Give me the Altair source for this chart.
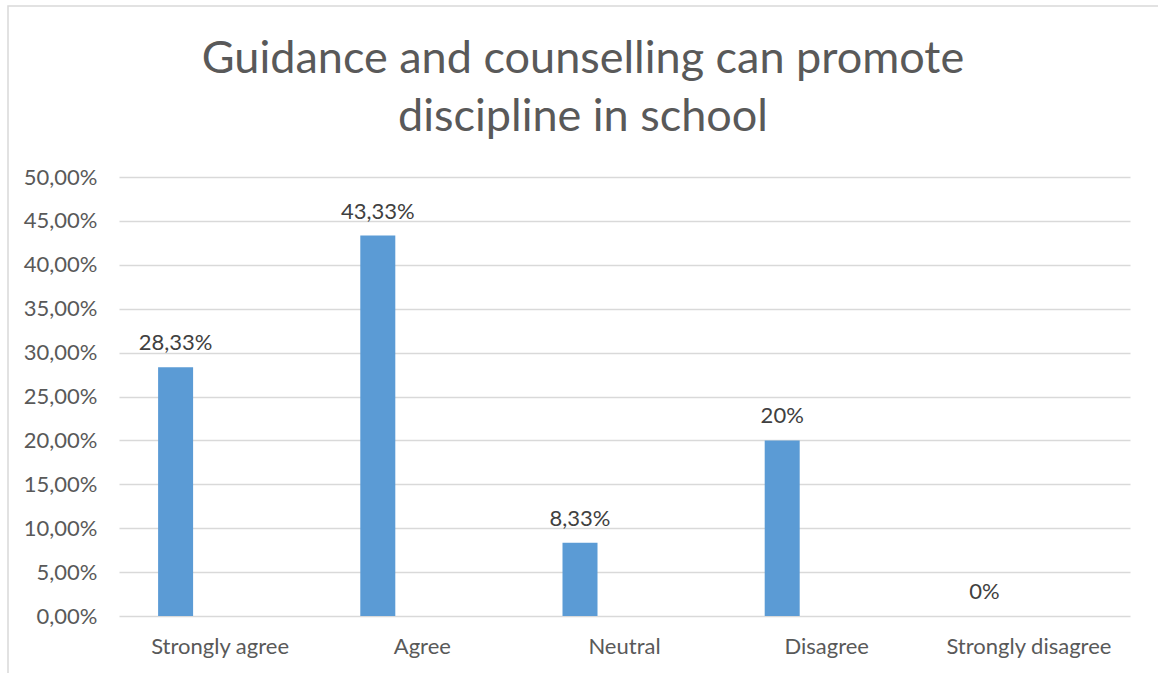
import altair as alt
import pandas as pd

categories = ["Strongly agree", "Agree", "Neutral", "Disagree", "Strongly disagree"]
values = [28.33, 43.33, 8.33, 20.0, 0.0]
value_labels = ["28,33%", "43,33%", "8,33%", "20%", "0%"]
title_lines = ["Guidance and counselling can promote", "discipline in school"]

df = pd.DataFrame({"category": categories, "value": values, "label": value_labels})
one = pd.DataFrame({"k": [0]})

FONT = "Lato"
W, H = 1011, 439
LEFT, TOP = 119, 177

x = alt.X("category:N", sort=categories, title=None,
          scale=alt.Scale(paddingInner=0, paddingOuter=0),
          axis=alt.Axis(labelAngle=0, ticks=False, domain=False, labelPadding=20,
                        labelFontSize=22, labelColor="#595959", labelFont=FONT))
y = alt.Y("value:Q", title=None,
          scale=alt.Scale(domain=[0, 50], nice=False),
          axis=alt.Axis(values=list(range(0, 55, 5)), ticks=False, domain=False,
                        labelExpr="replace(format(datum.value, '.2f'), '.', ',') + '%'",
                        labelPadding=22, labelFontSize=22, labelColor="#595959",
                        labelFont=FONT, gridColor="#d9d9d9", gridWidth=1.3))

base = alt.Chart(df)
bars = base.mark_bar(color="#5b9bd5", width=35, xOffset=-44.5).encode(x=x, y=y)
text = base.mark_text(fontSize=22, color="#404040", font=FONT, baseline="bottom",
                      dy=-12, xOffset=-44.5).encode(x=x, y=y, text="label:N")
border = alt.Chart(one).mark_rect(fill=None, stroke="#d9d9d9", strokeWidth=1.5).encode(
    x=alt.value(8 - LEFT), x2=alt.value(1180 - LEFT),
    y=alt.value(6 - TOP), y2=alt.value(700 - TOP))
title = alt.Chart(one).mark_text(fontSize=45, font=FONT, color="#595959",
                                 align="center", baseline="alphabetic",
                                 lineHeight=58).encode(
    x=alt.value(583 - LEFT), y=alt.value(73 - TOP), text=alt.value(title_lines))

chart = alt.layer(border, title, bars, text).properties(
    width=W, height=H,
    autosize=alt.AutoSizeParams(type="none"),
    padding={"left": LEFT, "top": TOP, "right": 28, "bottom": 57},
).configure_view(stroke=None)

chart.save("out.html", embed_options={"renderer": "svg", "actions": False})
